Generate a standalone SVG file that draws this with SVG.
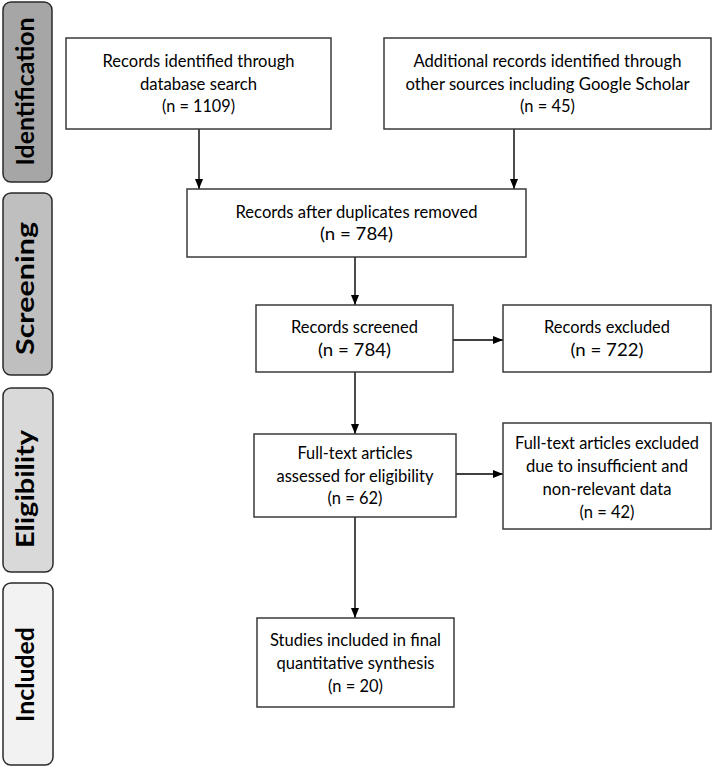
<svg xmlns="http://www.w3.org/2000/svg" width="714" height="766" viewBox="0 0 714 766">
<defs>
<style>
.box{fill:#ffffff;stroke:#3a3a3a;stroke-width:1.5}
.side{stroke:#2a2a2a;stroke-width:1.5}
.t{font-family:Lato,"Open Sans","Liberation Sans",sans-serif;font-size:17.7px;fill:#000;text-anchor:middle}
.s{font-family:Lato,"Liberation Sans",sans-serif;font-size:24px;font-weight:bold;fill:#000;text-anchor:middle}
.c{stroke:#000;stroke-width:1.4;fill:none;marker-end:url(#ah)}
</style>
<marker id="ah" markerUnits="userSpaceOnUse" markerWidth="10" markerHeight="10" refX="10" refY="5" orient="auto">
<path d="M0,1 L10,5 L0,9 z" fill="#000"/>
</marker>
</defs>
<rect width="714" height="766" fill="#ffffff"/>

<g id="phase-identification">
<rect class="side" x="3" y="2" width="49" height="180" rx="8" fill="#a6a6a6"/>
<text class="s" transform="translate(34,91.5) rotate(-90)" textLength="148" lengthAdjust="spacingAndGlyphs">Identification</text>
</g>
<g id="phase-screening">
<rect class="side" x="3" y="193" width="49" height="182" rx="8" fill="#bfbfbf"/>
<text class="s" transform="translate(34,288.5) rotate(-90)" textLength="133" lengthAdjust="spacingAndGlyphs">Screening</text>
</g>
<g id="phase-eligibility">
<rect class="side" x="3" y="388" width="50" height="184" rx="8" fill="#d9d9d9"/>
<text class="s" transform="translate(34,489) rotate(-90)" textLength="118" lengthAdjust="spacingAndGlyphs">Eligibility</text>
</g>
<g id="phase-included">
<rect class="side" x="3" y="583" width="50" height="182" rx="8" fill="#f2f2f2"/>
<text class="s" transform="translate(34,674.5) rotate(-90)" textLength="95" lengthAdjust="spacingAndGlyphs">Included</text>
</g>

<g id="connectors">
<line class="c" x1="199" y1="129" x2="199" y2="189"/>
<line class="c" x1="514" y1="129" x2="514" y2="189"/>
<line class="c" x1="355" y1="257" x2="355" y2="305"/>
<line class="c" x1="453" y1="340" x2="503" y2="340"/>
<line class="c" x1="355" y1="372" x2="355" y2="434"/>
<line class="c" x1="456" y1="474" x2="503" y2="474"/>
<line class="c" x1="355" y1="517" x2="355" y2="618"/>
</g>

<g id="node-database">
<rect class="box" x="66" y="38" width="265" height="91"/>
<text class="t" x="198.5" y="67" textLength="192" lengthAdjust="spacingAndGlyphs">Records identified through</text>
<text class="t" x="198.5" y="89.5" textLength="117" lengthAdjust="spacingAndGlyphs">database search</text>
<text class="t" x="198.5" y="112" textLength="73" lengthAdjust="spacingAndGlyphs">(n = 1109)</text>
</g>
<g id="node-other">
<rect class="box" x="384" y="38" width="327" height="91"/>
<text class="t" x="547.5" y="67" textLength="268" lengthAdjust="spacingAndGlyphs">Additional records identified through</text>
<text class="t" x="547.5" y="89.5" textLength="284" lengthAdjust="spacingAndGlyphs">other sources including Google Scholar</text>
<text class="t" x="547.5" y="112" textLength="55" lengthAdjust="spacingAndGlyphs">(n = 45)</text>
</g>
<g id="node-duplicates">
<rect class="box" x="187" y="189" width="339" height="68"/>
<text class="t" x="356.5" y="217.5" textLength="242" lengthAdjust="spacingAndGlyphs">Records after duplicates removed</text>
<text class="t" x="356.5" y="240" textLength="73" lengthAdjust="spacingAndGlyphs">(n = 784)</text>
</g>
<g id="node-screened">
<rect class="box" x="256" y="305" width="197" height="67"/>
<text class="t" x="354.5" y="333" textLength="127" lengthAdjust="spacingAndGlyphs">Records screened</text>
<text class="t" x="354.5" y="355.5" textLength="73" lengthAdjust="spacingAndGlyphs">(n = 784)</text>
</g>
<g id="node-excluded">
<rect class="box" x="503" y="305" width="208" height="67"/>
<text class="t" x="607" y="333" textLength="126" lengthAdjust="spacingAndGlyphs">Records excluded</text>
<text class="t" x="607" y="355.5" textLength="73" lengthAdjust="spacingAndGlyphs">(n = 722)</text>
</g>
<g id="node-fulltext">
<rect class="box" x="254" y="434" width="202" height="83"/>
<text class="t" x="355" y="459" textLength="115" lengthAdjust="spacingAndGlyphs">Full-text articles</text>
<text class="t" x="355" y="481.5" textLength="157" lengthAdjust="spacingAndGlyphs">assessed for eligibility</text>
<text class="t" x="355" y="504" textLength="55" lengthAdjust="spacingAndGlyphs">(n = 62)</text>
</g>
<g id="node-fulltext-excluded">
<rect class="box" x="503" y="423" width="208" height="106"/>
<text class="t" x="607" y="449" textLength="184" lengthAdjust="spacingAndGlyphs">Full-text articles excluded</text>
<text class="t" x="607" y="472" textLength="162" lengthAdjust="spacingAndGlyphs">due to insufficient and</text>
<text class="t" x="607" y="495" textLength="129" lengthAdjust="spacingAndGlyphs">non-relevant data</text>
<text class="t" x="607" y="518" textLength="55" lengthAdjust="spacingAndGlyphs">(n = 42)</text>
</g>
<g id="node-included">
<rect class="box" x="257" y="618" width="197" height="89"/>
<text class="t" x="355.5" y="646" textLength="171" lengthAdjust="spacingAndGlyphs">Studies included in final</text>
<text class="t" x="355.5" y="669" textLength="158" lengthAdjust="spacingAndGlyphs">quantitative synthesis</text>
<text class="t" x="355.5" y="692" textLength="55" lengthAdjust="spacingAndGlyphs">(n = 20)</text>
</g>
</svg>
